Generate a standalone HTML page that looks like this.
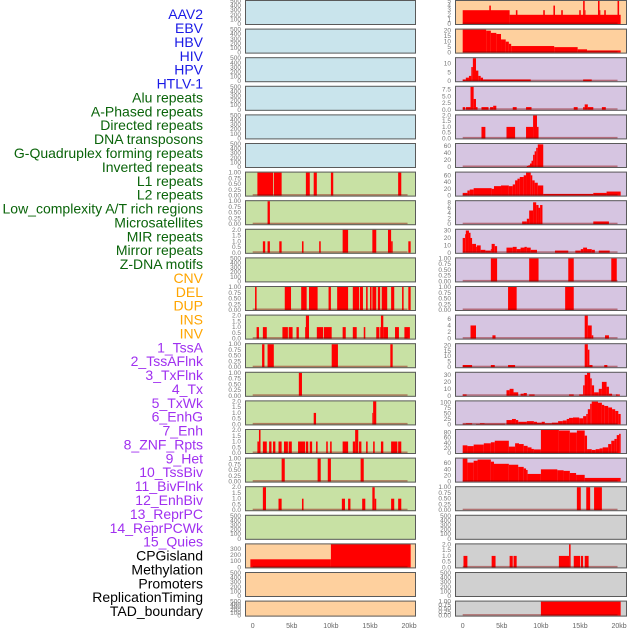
<!DOCTYPE html>
<html><head><meta charset="utf-8"><style>
html,body{margin:0;padding:0;background:#fff;}
svg{display:block;font-family:"Liberation Sans",sans-serif;}
</style></head><body>
<svg id="chart" width="630" height="630" viewBox="0 0 630 630" xmlns="http://www.w3.org/2000/svg"></svg>
<script>
// ---- data ----
const labels = ["AAV2","EBV","HBV","HIV","HPV","HTLV-1","Alu repeats","A-Phased repeats","Directed repeats","DNA transposons","G-Quadruplex forming repeats","Inverted repeats","L1 repeats","L2 repeats","Low_complexity A/T rich regions","Microsatellites","MIR repeats","Mirror repeats","Z-DNA motifs","CNV","DEL","DUP","INS","INV","1_TssA","2_TssAFlnk","3_TxFlnk","4_Tx","5_TxWk","6_EnhG","7_Enh","8_ZNF_Rpts","9_Het","10_TssBiv","11_BivFlnk","12_EnhBiv","13_ReprPC","14_ReprPCWk","15_Quies","CPGisland","Methylation","Promoters","ReplicationTiming","TAD_boundary"];
const labelGroups = [6,13,5,15,5];
const groupColors = ["#1a1ae6","#0a640a","#ffa500","#a030f0","#000000"];
const xTicks = [0,5,10,15,20];
const xTickLabels = ["0","5kb","10kb","15kb","20kb"];

const ticksEmpty = ["0","100","200","300","400","500"];
const ticksUnit = ["0.00","0.25","0.50","0.75","1.00"];
const ticksTwo = ["0.0","0.5","1.0","1.5","2.0"];

const alu = [[0.6,2.6,1],[2.7,3.7,1],[6.8,7.3,1],[7.8,8.2,1],[10.0,10.3,1],[18.6,19.0,1]];
const aPhased = [[1.9,2.2,1]];
const directed = [[1.3,1.6,1],[1.9,2.2,1],[3.4,3.7,1],[6.3,6.5,1],[8.5,8.7,1],[11.5,12.2,2],[15.3,15.8,2],[17.3,17.7,2],[17.7,17.9,1],[19.9,20.2,1]];
const gQuad = [[0.3,0.5,1],[4.1,4.9,1],[6.2,6.9,1],[7.2,8.3,1],[9.7,10.0,1],[10.8,12.2,1],[12.8,13.6,1],[13.7,14.1,1],[14.5,14.7,1],[15.0,15.2,1],[15.3,15.8,1],[16.0,16.3,1],[16.5,17.2,1],[17.7,18.1,1],[19.1,19.3,1],[19.9,20.2,1]];
const inverted = [[0.5,0.8,1],[1.3,1.8,1],[3.8,4.5,1],[4.6,5.1,1],[5.6,5.9,1],[6.7,6.8,1],[6.8,7.2,2],[8.2,9.0,1],[9.1,10.1,1],[11.5,11.9,1],[12.8,13.3,1],[14.2,14.4,1],[15.8,16.2,1],[16.3,16.4,1],[16.4,16.7,2],[16.7,17.3,1],[18.2,18.7,1],[19.4,20.1,1]];
const l1 = [[1.2,1.5,1],[1.9,2.7,1],[10.1,10.9,1],[17.6,17.9,1]];
const l2 = [[5.9,6.3,1]];
const lowComplexity = [[7.8,8.1,1],[15.3,15.4,1],[15.4,15.8,2]];
const microsat = [[0.6,0.8,1],[0.8,1.0,2],[1.3,1.8,1],[2.1,2.4,1],[2.6,2.9,1],[3.3,3.7,1],[4.0,4.5,1],[4.6,5.0,1],[5.8,6.7,1],[6.8,7.1,1],[7.3,7.6,1],[8.1,8.3,1],[9.4,9.6,1],[9.9,10.1,1],[11.5,12.2,1],[12.8,13.1,1],[13.1,13.5,2],[13.6,13.9,1],[14.5,14.7,1],[15.4,15.6,1],[16.4,16.7,1],[17.7,18.5,1],[18.6,19.0,1]];
const mir = [[3.7,4.1,1],[8.3,8.7,1],[9.6,10.0,1],[13.8,14.2,1]];
const mirror = [[1.3,1.7,2],[3.3,3.7,1],[6.3,6.5,1],[11.4,11.8,1],[12.2,12.5,1],[14.0,14.4,1],[15.3,15.6,2],[15.6,15.8,1],[17.7,18.1,1],[18.6,19.0,1]];
const cnv = [[-0.3,10.0,130],[10.0,20.2,400]];

const ins = [[0,6,3],[3.4,3.6,4],[6,20.2,2],[6.8,7.0,3],[10.3,10.5,3],[11.6,11.8,4],[12.6,12.8,3],[14.9,15.1,3],[15.4,15.6,5],[15.6,15.7,3],[17.3,17.5,5],[17.5,17.6,3],[18.1,18.3,3],[19.8,20.0,5]];
const inv = [[0,3.0,21],[3.0,3.6,20],[3.6,4.3,18],[4.3,4.9,17],[4.9,5.5,12],[5.5,5.9,10],[5.9,6.2,8],[6.2,11.7,6],[11.7,14.7,5],[14.7,15.9,3],[15.9,20.2,2]];
const tssA = [[0,0.4,1],[0.4,0.8,2],[0.8,1.1,3],[1.1,1.3,8],[1.3,1.7,13],[1.7,2.0,6],[2.0,2.3,3],[2.3,2.6,2],[2.6,8.7,1],[15.4,16.5,1]];
const tssAFlnk = [[0,0.3,1],[0.4,1.0,1],[1.0,1.4,8.5],[1.4,1.7,4],[1.7,1.9,1],[2.4,3.3,1],[3.5,3.9,1],[3.9,4.3,1.5],[6.4,6.9,1],[8.1,8.8,1],[14.2,14.7,1],[15.4,15.6,1],[15.6,16.0,2],[16.0,16.7,1],[17.8,18.3,1]];
const txFlnk = [[2.4,2.9,1],[5.6,6.7,1],[8.1,9.0,1],[9.0,9.5,2],[9.5,9.7,1]];
const tx = [[8.2,8.4,3],[8.4,8.6,5],[8.6,8.8,10],[8.8,9.0,18],[9.0,9.2,35],[9.2,9.4,45],[9.4,9.6,55],[9.6,10.3,65]];
const txWk = [[0,0.6,8],[0.6,0.9,15],[0.9,1.4,18],[1.4,3.7,22],[3.7,4.0,20],[4.0,4.9,28],[4.9,5.9,30],[5.9,6.4,28],[6.4,6.7,33],[6.7,7.0,45],[7.0,7.3,50],[7.3,7.8,55],[7.8,8.1,60],[8.1,8.7,68],[8.7,8.9,60],[8.9,9.2,45],[9.2,9.6,38],[9.6,10.3,30],[10.3,16.7,5],[16.7,18.4,8],[18.4,20.2,12]];
const enhG = [[7.6,8.2,1],[8.2,8.5,2],[8.5,9.0,5],[9.0,9.4,8],[9.4,9.7,7],[9.7,9.9,6],[9.9,10.2,7],[16.7,18.7,1]];
const enh = [[0,0.3,20],[0.3,0.4,25],[0.4,0.8,30],[0.8,1.0,27],[1.0,1.2,20],[1.2,1.7,12],[1.7,1.8,8],[1.8,2.3,10],[2.3,2.9,4],[2.9,3.6,3],[3.6,3.7,5],[3.7,4.1,12],[4.1,4.4,9],[5.6,6.4,7],[6.4,6.9,8],[6.9,7.4,5],[7.4,7.9,7],[7.9,8.2,8],[8.2,8.7,7],[8.7,9.5,4],[11.8,13.5,3],[14.4,15.1,3],[15.1,15.4,5],[15.4,15.9,7],[15.9,16.5,5],[16.5,16.9,4],[17.4,18.8,3]];
const znf = [[3.6,4.4,1],[8.5,9.7,1],[13.5,14.2,1],[19.0,19.7,1]];
const het = [[5.8,6.9,1],[13.1,14.2,1]];
const tssBiv = [[1.0,1.7,4],[3.8,4.2,1],[15.6,16.0,7],[16.0,16.5,4],[16.5,16.7,1],[18.2,18.7,1]];
const bivFlnk = [[0,1.2,2],[3.6,4.1,2],[5.8,6.7,2],[15.6,16.0,21],[16.0,16.2,16],[16.2,16.6,2],[18.1,18.5,2]];
const enhBiv = [[0,0.5,2],[5.6,6.0,8],[6.0,6.5,10],[6.5,7.1,5],[7.4,7.8,3],[7.8,8.2,4],[8.5,9.2,2],[13.6,14.2,2],[14.9,15.4,2],[15.4,15.6,15],[15.6,15.9,30],[15.9,16.3,33],[16.3,16.5,25],[16.5,16.8,15],[16.8,17.4,5],[17.4,17.8,10],[17.8,18.4,20],[18.4,18.7,13],[18.7,19.1,3],[19.6,20.1,2]];
const reprPC = [[0,0.4,3],[0.4,1.2,5],[1.7,2.2,2],[2.2,2.8,5],[2.8,5.4,3],[5.6,6.3,20],[6.3,6.8,25],[6.8,7.1,20],[7.1,8.2,12],[8.2,9.1,15],[9.1,9.5,12],[9.5,10.1,8],[10.1,10.5,12],[10.5,11.4,5],[11.4,12.2,8],[12.2,12.8,15],[12.8,13.3,18],[13.3,13.6,25],[13.6,14.1,30],[14.1,14.9,32],[14.9,15.4,28],[15.4,15.8,38],[15.8,16.0,48],[16.0,16.3,70],[16.3,16.5,95],[16.5,17.3,105],[17.3,17.8,100],[17.8,18.1,90],[18.1,18.6,85],[18.6,19.1,78],[19.1,19.5,70],[19.5,19.9,62],[19.9,20.2,48]];
const reprPCWk = [[0,0.6,30],[0.6,1.4,27],[1.4,2.7,33],[2.7,3.6,38],[3.6,4.1,42],[4.1,5.9,48],[5.9,6.7,25],[6.7,7.2,38],[7.2,7.8,35],[7.8,8.3,28],[8.3,8.8,22],[8.8,9.1,16],[9.1,10.0,14],[10.0,12.3,90],[12.3,13.7,88],[13.7,14.6,80],[14.6,15.6,88],[15.6,15.9,68],[15.9,16.5,15],[16.5,17.0,12],[17.0,17.5,15],[17.5,17.9,18],[17.9,18.6,22],[18.6,19.0,35],[19.0,19.4,48],[19.4,19.7,55],[19.7,20.0,70],[20.0,20.2,75]];
const quies = [[0,0.6,75],[0.6,1.4,62],[1.4,1.9,68],[1.9,3.6,72],[3.6,4.0,65],[4.0,5.9,58],[5.9,7.1,55],[7.1,7.8,48],[7.8,8.1,43],[8.1,8.3,38],[8.3,10.0,25],[10.0,12.1,40],[12.1,12.9,37],[12.9,13.7,35],[13.7,14.5,28],[14.5,15.6,22],[15.6,20.2,12]];
const cpg = [[14.6,15.1,1],[15.8,16.3,1],[16.8,17.8,1]];
const promoters = [[0.1,0.6,1],[3.7,4.2,1],[6.0,6.4,1],[6.5,6.9,1],[12.3,13.6,1],[13.6,13.8,2],[14.2,15.0,1],[15.1,15.4,1],[15.6,16.1,1]];
const tad = [[10.0,20.2,1]];

const BLUE="#c9e4ec", GREEN="#c8e1a4", PEACH="#fed09e", PURPLE="#d6c5e1", GREY="#d0d0d0";
const panels = [
 ["aav2",0,0,BLUE,ticksEmpty,500,null],["ebv",0,1,BLUE,ticksEmpty,500,null],["hbv",0,2,BLUE,ticksEmpty,500,null],
 ["hiv",0,3,BLUE,ticksEmpty,500,null],["hpv",0,4,BLUE,ticksEmpty,500,null],["htlv1",0,5,BLUE,ticksEmpty,500,null],
 ["alu",0,6,GREEN,ticksUnit,1,alu],["a-phased",0,7,GREEN,ticksUnit,1,aPhased],["directed",0,8,GREEN,ticksTwo,2,directed],
 ["dna-transposons",0,9,GREEN,ticksEmpty,500,null],["g-quadruplex",0,10,GREEN,ticksUnit,1,gQuad],["inverted",0,11,GREEN,ticksTwo,2,inverted],
 ["l1",0,12,GREEN,ticksUnit,1,l1],["l2",0,13,GREEN,ticksUnit,1,l2],["low-complexity",0,14,GREEN,ticksTwo,2,lowComplexity],
 ["microsatellites",0,15,GREEN,ticksTwo,2,microsat],["mir",0,16,GREEN,ticksUnit,1,mir],["mirror",0,17,GREEN,ticksTwo,2,mirror],
 ["z-dna",0,18,GREEN,ticksEmpty,500,null],["cnv",0,19,PEACH,["0","100","200","300"],370,cnv],
 ["del",0,20,PEACH,ticksEmpty,500,null],["dup",0,21,PEACH,ticksEmpty,500,null],
 ["ins",1,0,PEACH,["0","1","2","3","4","5"],5,ins],["inv",1,1,PEACH,["0","5","10","15","20"],21,inv],
 ["tssa",1,2,PURPLE,["0","5","10"],13,tssA],["tssaflnk",1,3,PURPLE,["0.0","2.5","5.0","7.5"],8.5,tssAFlnk],
 ["txflnk",1,4,PURPLE,ticksTwo,2,txFlnk],["tx",1,5,PURPLE,["0","20","40","60"],66,tx],
 ["txwk",1,6,PURPLE,["0","20","40","60"],68,txWk],["enhg",1,7,PURPLE,["0","2","4","6","8"],8.4,enhG],
 ["enh",1,8,PURPLE,["0","10","20","30"],31,enh],["znf-rpts",1,9,PURPLE,ticksUnit,1,znf],
 ["het",1,10,PURPLE,ticksUnit,1,het],["tssbiv",1,11,PURPLE,["0","2","4","6"],7,tssBiv],
 ["bivflnk",1,12,PURPLE,["0","5","10","15","20"],21,bivFlnk],["enhbiv",1,13,PURPLE,["0","10","20","30"],33,enhBiv],
 ["reprpc",1,14,PURPLE,["0","25","50","75","100"],106,reprPC],["reprpcwk",1,15,PURPLE,["0","20","40","60","80"],90,reprPCWk],
 ["quies",1,16,PURPLE,["0","20","40","60"],75,quies],["cpgisland",1,17,GREY,ticksUnit,1,cpg],
 ["methylation",1,18,GREY,ticksEmpty,500,null],["promoters",1,19,GREY,ticksTwo,2,promoters],
 ["replication-timing",1,20,GREY,ticksEmpty,500,null],["tad-boundary",1,21,GREY,ticksUnit,1,tad]
];

// ---- drawing ----
const NS="http://www.w3.org/2000/svg";
const svg=document.getElementById('chart');
function mk(tag,attrs,parent){const e=document.createElementNS(NS,tag);for(const k in attrs)e.setAttribute(k,attrs[k]);(parent||svg).appendChild(e);return e;}
const colX=[245,455], colW=[171,172], x0kb=[252.7,462.7], kbPx=7.82;
function xScale(col,kb){return x0kb[col]+kb*kbPx;}
function rowTop(r){return r*28.6;}
function rowH(r){return r===21?16:25;}

let li=0;
labelGroups.forEach((n,g)=>{for(let k=0;k<n;k++){const t=mk('text',{x:203,y:15.5+li*13.88,'text-anchor':'end','dominant-baseline':'middle','font-size':'14',fill:groupColors[g]});


t.textContent=labels[li];li++;}});

panels.forEach(p=>{
  const [name,col,row,bg,ticks,ymax,data]=p;
  const g=mk('g',{});
  
  
  const top=rowTop(row), h=rowH(row), left=colX[col], w=colW[col];
  const yb=top+h-1, yt=top+1;
  const yScale=v=>yb-(Math.min(v,ymax*1.02)/ymax)*(yb-yt);
  mk('rect',{x:left,y:top,width:w,height:h,fill:bg},g);
  if(data){
    data.forEach(d=>{
      const r=mk('rect',{x:xScale(col,d[0]),y:yScale(d[2]),width:Math.max(0.8,(d[1]-d[0])*kbPx),height:yb-yScale(d[2]),fill:'#ff0000'},g);
      
      
    });
    mk('rect',{x:xScale(col,0),y:yb-1.5,width:19.8*kbPx,height:1.5,fill:'rgba(140,0,0,0.45)'},g);
  }
  mk('rect',{x:left+0.5,y:top+0.5,width:w-1,height:h-1,fill:'none',stroke:'#5a5a5a','stroke-width':1},g);
  ticks.forEach((t,i)=>{
    const v=parseFloat(t);
    const yy = ymax===500 ? yb-(v/500)*(yb-yt) : yScale(v);
    const tx=mk('text',{x:left-4,y:yy+2,'text-anchor':'end','font-size':'6.5',fill:'#777'},g);
    
    
    tx.textContent=t;
  });
});

[0,1].forEach(col=>{
  xTicks.forEach((v,i)=>{
    const t=mk('text',{x:xScale(col,v),y:628,'text-anchor':'middle','font-size':'7',fill:'#666'});
    
    
    t.textContent=xTickLabels[i];
  });
});
</script>
</body></html>
